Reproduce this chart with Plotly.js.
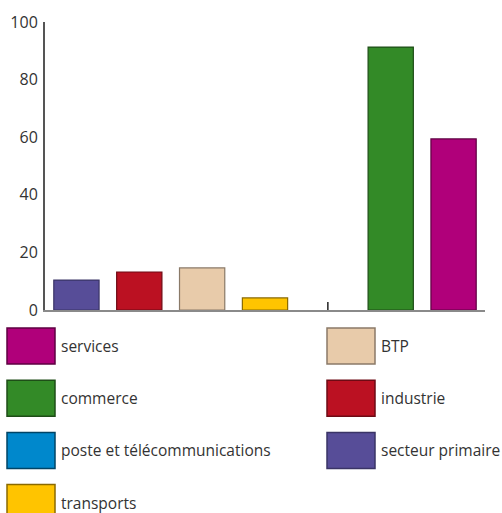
<!DOCTYPE html>
<html><head><meta charset="utf-8">
<script src="https://cdn.plot.ly/plotly-3.0.1.min.js"></script>
<style>html,body{margin:0;padding:0;background:#fff}#chart{width:502px;height:513px}</style>
</head><body><div id="chart"></div>
<script>
// Data
var categories = ["secteur primaire", "industrie", "BTP", "transports", "poste et télécommunications", "commerce", "services"];
var values = [10.4, 13.2, 14.6, 4.2, 0, 91.3, 59.4];
var colors = ["#574d98", "#bb1122", "#e8cbaa", "#ffc400", "#0088cc", "#338a27", "#b0007a"];
var lineColors = ["#3a3466", "#6e0a14", "#8a7a68", "#8a6a00", "#004466", "#1e4d17", "#5e0042"];
var yTicks = [0, 20, 40, 60, 80, 100];

// legend layout (column-major): left column then right column
var legendCol1 = ["services", "commerce", "poste et télécommunications", "transports"];
var legendCol2 = ["BTP", "industrie", "secteur primaire"];

var L = 45, R = 17, T = 22, B = 203, W = 502, H = 513;
var pw = W - L - R, ph = H - T - B;
function px2x(px) { return (px - L) / pw; }
function py2y(py) { return (H - B - py) / ph; }

var shapes = [], annotations = [];
function addLegend(names, rectX, textX) {
  names.forEach(function (name, i) {
    var idx = categories.indexOf(name);
    var top = 328 + i * 52.2, bot = top + 36;
    shapes.push({type: "rect", xref: "paper", yref: "paper",
      x0: px2x(rectX), x1: px2x(rectX + 48), y0: py2y(top), y1: py2y(bot),
      fillcolor: colors[idx], line: {color: lineColors[idx], width: 1.5}});
    annotations.push({xref: "paper", yref: "paper", x: px2x(textX), y: py2y((top + bot) / 2),
      xanchor: "left", yanchor: "middle", showarrow: false, text: name,
      font: {family: "Open Sans, sans-serif", size: 15.5, color: "#333"}});
  });
}
addLegend(legendCol1, 7, 59);
addLegend(legendCol2, 327, 379);

// small stub marking the zero-valued category
values.forEach(function (v, i) {
  if (v === 0) {
    shapes.push({type: "line", xref: "x", yref: "y", ysizemode: "pixel", yanchor: 0,
      x0: categories[i], x1: categories[i], y0: 0, y1: 8, line: {color: "#222", width: 1.5}});
  }
});

var trace = {
  type: "bar", x: categories, y: values,
  marker: {color: colors, line: {color: lineColors, width: values.map(function (v) { return v === 0 ? 0 : 1.2; })}},
  showlegend: false, hoverinfo: "x+y"
};

var layout = {
  width: W, height: H,
  margin: {l: L, r: R, t: T, b: B, pad: 0},
  paper_bgcolor: "#fff", plot_bgcolor: "#fff",
  bargap: 0.28,
  showlegend: false,
  font: {family: "Open Sans, sans-serif", color: "#333"},
  xaxis: {type: "category", range: [-0.5, 6.5], showticklabels: false, ticks: "",
    showgrid: false, zeroline: false, showline: true, linecolor: "#8a8a8a", linewidth: 2, fixedrange: true},
  yaxis: {range: [0, 100], tickvals: yTicks, ticktext: yTicks.map(String), showgrid: false,
    zeroline: false, showline: true, linecolor: "#555", linewidth: 2, ticks: "", ticklabelstandoff: 2,
    tickfont: {family: "Open Sans, sans-serif", size: 16, color: "#333"}, fixedrange: true},
  shapes: shapes, annotations: annotations
};

Plotly.newPlot("chart", [trace], layout, {displayModeBar: false, staticPlot: true});
</script></body></html>
